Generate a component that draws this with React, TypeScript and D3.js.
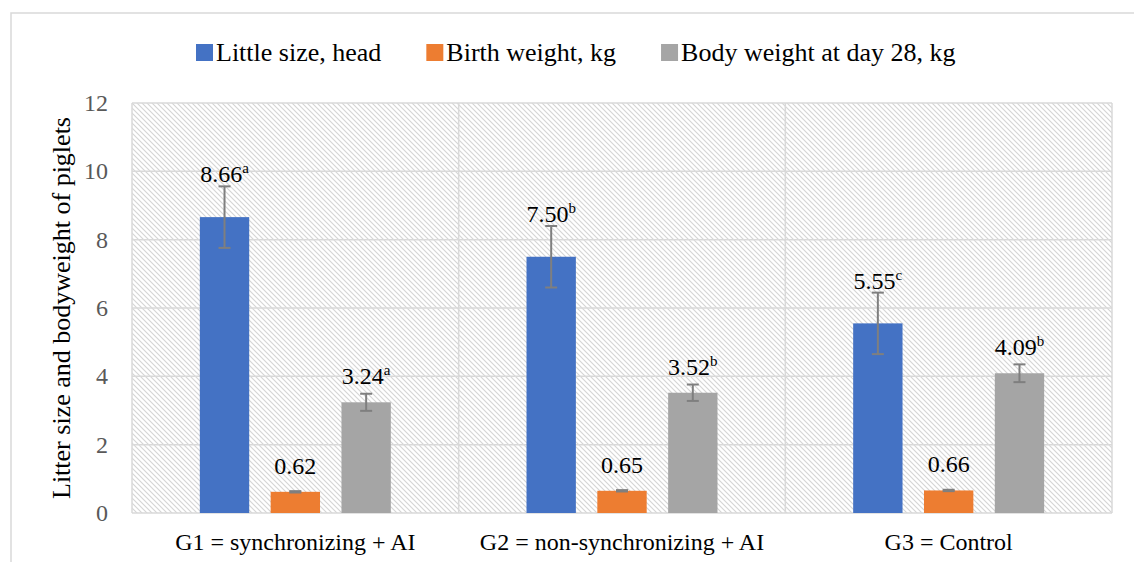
import React, { useEffect, useRef } from "react";
import * as d3 from "d3";

const categories = ["G1 = synchronizing + AI", "G2 = non-synchronizing + AI", "G3 = Control"];
const seriesNames = ["Little size, head", "Birth weight, kg", "Body weight at day 28, kg"];
const seriesColors = ["#4472C4", "#ED7D31", "#A5A5A5"];
const littleSize = [8.66, 7.5, 5.55];
const birthWeight = [0.62, 0.65, 0.66];
const weightDay28 = [3.24, 3.52, 4.09];
const littleSizeErr = [0.9, 0.9, 0.9];
const birthWeightErr = [0.02, 0.02, 0.02];
const weightDay28Err = [0.25, 0.24, 0.26];
const littleSizeSup = ["a", "b", "c"];
const birthWeightSup = ["", "", ""];
const weightDay28Sup = ["a", "b", "b"];
const yTicks = [0, 2, 4, 6, 8, 10, 12];
const yTitle = "Litter size and bodyweight of piglets";

const W = 1134;
const H = 562;
const FONT = "'Liberation Serif', 'DejaVu Serif', serif";

const App = () => {
  const ref = useRef<SVGSVGElement>(null);

  useEffect(() => {
    document.body.style.margin = "0";
    const svg = d3.select(ref.current);
    svg.selectAll("*").remove();

    const margin = { top: 103, right: 22, bottom: 49, left: 132 };
    const iw = W - margin.left - margin.right;
    const ih = H - margin.top - margin.bottom;

    // hatch pattern for plot background
    const defs = svg.append("defs");
    const pat = defs
      .append("pattern")
      .attr("id", "hatch")
      .attr("patternUnits", "userSpaceOnUse")
      .attr("width", 5)
      .attr("height", 5);
    pat.append("rect").attr("width", 5).attr("height", 5).attr("fill", "#fff");
    pat
      .append("path")
      .attr("d", "M-1,-1 L6,6 M-1,4 L1,6 M4,-1 L6,1")
      .attr("stroke", "#d4d4d4")
      .attr("stroke-width", 1.1);

    // outer chart border
    svg
      .append("rect")
      .attr("x", 11)
      .attr("y", 13)
      .attr("width", W)
      .attr("height", H)
      .attr("fill", "none")
      .attr("stroke", "#d9d9d9")
      .attr("stroke-width", 1.5);

    const g = svg.append("g").attr("transform", `translate(${margin.left},${margin.top})`);

    const x0 = d3.scaleBand().domain(categories).range([0, iw]).padding(0);
    const x1 = d3
      .scaleBand()
      .domain(seriesNames)
      .range([0, x0.bandwidth()])
      .paddingInner(0.303)
      .paddingOuter(0.958);
    const y = d3.scaleLinear().domain([0, 12]).range([ih, 0]);

    g.append("rect").attr("width", iw).attr("height", ih).attr("fill", "url(#hatch)");

    // horizontal grid
    g.append("g")
      .selectAll("line")
      .data(yTicks)
      .join("line")
      .attr("x1", 0)
      .attr("x2", iw)
      .attr("y1", (d) => y(d))
      .attr("y2", (d) => y(d))
      .attr("stroke", "#d9d9d9")
      .attr("stroke-width", 1.5);

    // vertical grid at category edges
    const edges = categories.map((c) => x0(c)!).concat([iw]);
    g.append("g")
      .selectAll("line")
      .data(edges)
      .join("line")
      .attr("x1", (d) => d)
      .attr("x2", (d) => d)
      .attr("y1", 0)
      .attr("y2", ih)
      .attr("stroke", "#d9d9d9")
      .attr("stroke-width", 1.5);

    // y tick labels
    g.append("g")
      .selectAll("text")
      .data(yTicks)
      .join("text")
      .attr("x", -24)
      .attr("y", (d) => y(d))
      .attr("dy", "0.34em")
      .attr("text-anchor", "end")
      .style("font-family", FONT)
      .attr("font-size", 24)
      .attr("fill", "#595959")
      .text((d) => d);

    // y title
    svg
      .append("text")
      .attr("transform", `translate(70,${margin.top + ih / 2}) rotate(-90)`)
      .attr("text-anchor", "middle")
      .style("font-family", FONT)
      .attr("font-size", 26)
      .attr("fill", "#000")
      .text(yTitle);

    // x labels
    g.append("g")
      .selectAll("text")
      .data(categories)
      .join("text")
      .attr("x", (d) => x0(d)! + x0.bandwidth() / 2)
      .attr("y", ih + 37)
      .attr("text-anchor", "middle")
      .style("font-family", FONT)
      .attr("font-size", 24)
      .attr("fill", "#000")
      .text((d) => d);

    const series = [
      { name: seriesNames[0], values: littleSize, err: littleSizeErr, sup: littleSizeSup, color: seriesColors[0] },
      { name: seriesNames[1], values: birthWeight, err: birthWeightErr, sup: birthWeightSup, color: seriesColors[1] },
      { name: seriesNames[2], values: weightDay28, err: weightDay28Err, sup: weightDay28Sup, color: seriesColors[2] },
    ];

    const items = series.flatMap((s) =>
      categories.map((c, i) => ({ cat: c, s, v: s.values[i], e: s.err[i], sup: s.sup[i] }))
    );

    const bx = (d: any) => x0(d.cat)! + x1(d.s.name)!;

    g.append("g")
      .selectAll("rect")
      .data(items)
      .join("rect")
      .attr("x", bx)
      .attr("y", (d) => y(d.v))
      .attr("width", x1.bandwidth())
      .attr("height", (d) => ih - y(d.v))
      .attr("fill", (d) => d.s.color);

    // error bars
    const eb = g.append("g").attr("stroke", "#7f7f7f").attr("stroke-width", 2);
    items.forEach((d) => {
      const cx = bx(d) + x1.bandwidth() / 2;
      const t = y(d.v + d.e);
      const b = y(d.v - d.e);
      eb.append("line").attr("x1", cx).attr("x2", cx).attr("y1", t).attr("y2", b);
      eb.append("line").attr("x1", cx - 6).attr("x2", cx + 6).attr("y1", t).attr("y2", t);
      eb.append("line").attr("x1", cx - 6).attr("x2", cx + 6).attr("y1", b).attr("y2", b);
    });

    // value labels
    const lab = g
      .append("g")
      .selectAll("text")
      .data(items)
      .join("text")
      .attr("x", (d) => bx(d) + x1.bandwidth() / 2)
      .attr("y", (d) => Math.min(y(d.v) - 18, y(d.v + d.e) - 4))
      .attr("text-anchor", "middle")
      .style("font-family", FONT)
      .attr("font-size", 24)
      .attr("fill", "#000");
    lab.append("tspan").text((d) => d.v.toFixed(2));
    lab
      .filter((d) => d.sup !== "")
      .append("tspan")
      .attr("font-size", 15)
      .attr("dy", -9)
      .text((d) => d.sup);

    // legend
    const leg = svg.append("g").attr("transform", "translate(196,61)");
    let lx = 0;
    series.forEach((s) => {
      leg.append("rect").attr("x", lx).attr("y", -17).attr("width", 17).attr("height", 17).attr("fill", s.color);
      const t = leg
        .append("text")
        .attr("x", lx + 20)
        .attr("y", 0)
        .style("font-family", FONT)
        .attr("font-size", 26)
        .attr("fill", "#000")
        .text(s.name);
      const len = (t.node() as SVGTextElement).getComputedTextLength();
      lx += 20 + len + 45;
    });
  }, []);

  return (
    <div>
      <svg ref={ref} width={W} height={H} style={{ display: "block", background: "#fff" }}></svg>
    </div>
  );
};

export default App;
